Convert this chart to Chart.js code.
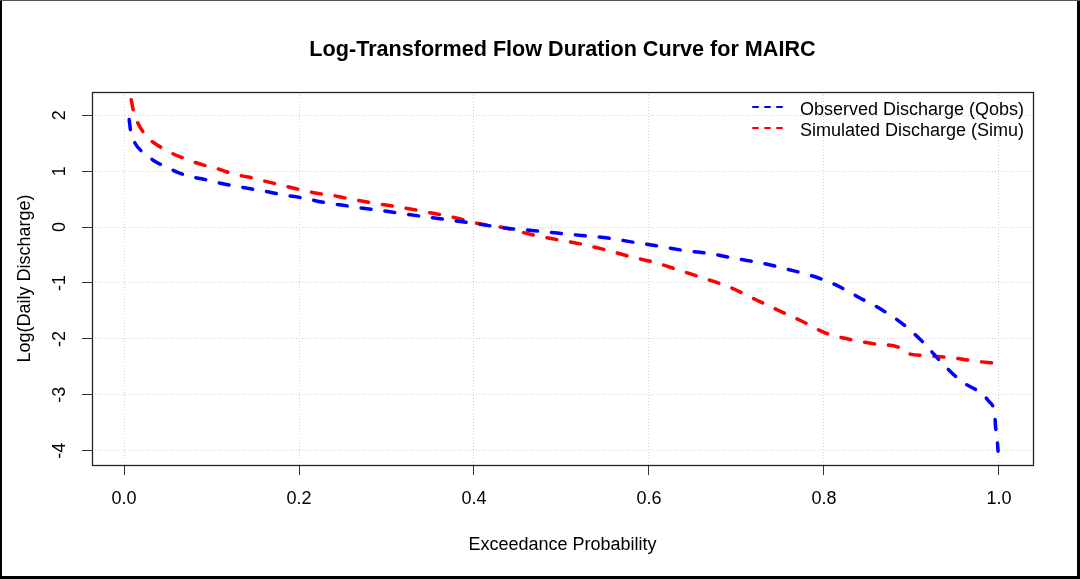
<!DOCTYPE html>
<html>
<head>
<meta charset="utf-8">
<script src="https://cdn.jsdelivr.net/npm/chart.js@4.4.1/dist/chart.umd.min.js"></script>
<style>
html,body{margin:0;padding:0;background:#fff;overflow:hidden}
#wrap{width:1080px;height:579px;position:relative;background:#fff}
canvas{display:block}
</style>
</head>
<body>
<div id="wrap"><canvas id="c" width="1080" height="579"></canvas></div>
<script>
// ---- data ----
const titleText = 'Log-Transformed Flow Duration Curve for MAIRC';
const xTitle = 'Exceedance Probability';
const yTitle = 'Log(Daily Discharge)';
const seriesNames = ['Observed Discharge (Qobs)', 'Simulated Discharge (Simu)'];
const seriesColors = ['#0000ff', '#ff0000'];

const xTicks = [0, 0.2, 0.4, 0.6, 0.8, 1.0];
const xTickLabels = ['0.0', '0.2', '0.4', '0.6', '0.8', '1.0'];
const yTicks = [-4, -3, -2, -1, 0, 1, 2];
const yTickLabels = ['-4', '-3', '-2', '-1', '0', '1', '2'];

const obsProb = [0.0032, 0.0057, 0.0076, 0.0126, 0.024, 0.035, 0.049, 0.062, 0.077, 0.091,
  0.106, 0.121, 0.136, 0.152, 0.167, 0.179, 0.195, 0.209, 0.224, 0.239,
  0.255, 0.27, 0.285, 0.30, 0.317, 0.346, 0.375, 0.405, 0.436, 0.466,
  0.495, 0.523, 0.553, 0.582, 0.613, 0.641, 0.672, 0.70, 0.729, 0.757,
  0.786, 0.813, 0.839, 0.866, 0.891, 0.912, 0.933, 0.957, 0.982, 0.988,
  0.993, 0.995, 0.996, 0.998, 0.999];
const obsLogQ = [2.17, 1.95, 1.71, 1.50, 1.31, 1.18, 1.07, 0.975, 0.90, 0.857,
  0.80, 0.75, 0.707, 0.666, 0.625, 0.585, 0.546, 0.51, 0.455, 0.416,
  0.38, 0.345, 0.315, 0.285, 0.245, 0.18, 0.12, 0.054, -0.018, -0.06,
  -0.107, -0.15, -0.196, -0.27, -0.346, -0.42, -0.48, -0.565, -0.643, -0.75,
  -0.87, -1.03, -1.25, -1.477, -1.745, -2.04, -2.40, -2.757, -3.0, -3.11,
  -3.2, -3.3, -3.55, -3.8, -4.009];

const simProb = [0.0032, 0.007, 0.011, 0.015, 0.026, 0.035, 0.05, 0.062, 0.077, 0.091,
  0.106, 0.117, 0.135, 0.148, 0.163, 0.179, 0.193, 0.207, 0.222, 0.235,
  0.25, 0.264, 0.281, 0.293, 0.315, 0.346, 0.375, 0.403, 0.433, 0.462,
  0.49, 0.521, 0.55, 0.578, 0.609, 0.635, 0.664, 0.693, 0.721, 0.748,
  0.775, 0.801, 0.83, 0.858, 0.887, 0.894, 0.917, 0.948, 0.974, 0.999];
const simLogQ = [2.7, 2.39, 2.06, 1.886, 1.62, 1.50, 1.36, 1.27, 1.18, 1.11,
  1.05, 0.99, 0.916, 0.875, 0.814, 0.755, 0.70, 0.648, 0.60, 0.577,
  0.53, 0.488, 0.44, 0.41, 0.357, 0.268, 0.18, 0.07, -0.007, -0.12,
  -0.21, -0.30, -0.405, -0.525, -0.643, -0.775, -0.92, -1.08, -1.29, -1.49,
  -1.685, -1.89, -2.01, -2.09, -2.16, -2.25, -2.30, -2.34, -2.40, -2.44];

// ---- chart ----
const FONT = '"Liberation Sans", Arial, sans-serif';
const toPoints = (xs, ys) => xs.map((x, i) => ({ x: x, y: ys[i] }));

const decorPlugin = {
  id: 'decor',
  afterDraw(chart) {
    const ctx = chart.ctx;
    const a = chart.chartArea;
    ctx.save();
    // plot box
    ctx.strokeStyle = '#222';
    ctx.lineWidth = 1.3;
    ctx.setLineDash([]);
    ctx.strokeRect(a.left + 0.5, a.top + 0.5, a.right - a.left, a.bottom - a.top);

    // title
    const cx = (a.left + a.right) / 2;
    ctx.fillStyle = '#000';
    ctx.textAlign = 'center';
    ctx.textBaseline = 'alphabetic';
    ctx.font = 'bold 21.6px ' + FONT;
    ctx.fillText(titleText, cx, 56);

    // axis titles
    ctx.font = '18px ' + FONT;
    ctx.fillText(xTitle, cx, 550);
    ctx.save();
    ctx.translate(29.5, (a.top + a.bottom) / 2);
    ctx.rotate(-Math.PI / 2);
    ctx.fillText(yTitle, 0, 0);
    ctx.restore();

    // legend
    const lx0 = 753, lx1 = 786, tx = 800;
    const ly = [107, 128];
    chart.data.datasets.forEach((ds, i) => {
      ctx.strokeStyle = ds.borderColor;
      ctx.lineWidth = 2;
      ctx.lineCap = 'round';
      ctx.setLineDash([5, 7]);
      ctx.beginPath();
      ctx.moveTo(lx0, ly[i]);
      ctx.lineTo(lx1, ly[i]);
      ctx.stroke();
      ctx.setLineDash([]);
      ctx.fillStyle = '#000';
      ctx.textAlign = 'left';
      ctx.textBaseline = 'alphabetic';
      ctx.font = '18px ' + FONT;
      ctx.fillText(ds.label, tx, ly[i] + 7.5);
    });

    // outer frame
    ctx.fillStyle = '#000';
    ctx.fillRect(0, 0, 2, chart.height);
    ctx.fillRect(chart.width - 3, 0, 3, chart.height);
    ctx.fillRect(0, chart.height - 3, chart.width, 3);
    ctx.fillStyle = '#555';
    ctx.fillRect(0, 0, chart.width, 1);
    ctx.restore();
  }
};

const commonDs = {
  borderWidth: 3.5,
  borderDash: [10, 14],
  borderCapStyle: 'round',
  borderJoinStyle: 'round',
  pointRadius: 0,
  pointHoverRadius: 0,
  fill: false,
  cubicInterpolationMode: 'monotone',
  clip: 0
};

new Chart(document.getElementById('c'), {
  type: 'line',
  data: {
    datasets: [
      Object.assign({ label: seriesNames[0], data: toPoints(obsProb, obsLogQ), borderColor: seriesColors[0] }, commonDs, { borderDashOffset: 10 }),
      Object.assign({ label: seriesNames[1], data: toPoints(simProb, simLogQ), borderColor: seriesColors[1] }, commonDs)
    ]
  },
  options: {
    responsive: false,
    animation: false,
    devicePixelRatio: 1,
    events: [],
    layout: { padding: { top: 92, right: 47, bottom: 0, left: 0 } },
    plugins: {
      legend: { display: false },
      title: { display: false },
      tooltip: { enabled: false }
    },
    scales: {
      x: {
        type: 'linear',
        min: -0.0366,
        max: 1.0389,
        afterBuildTicks: s => { s.ticks = xTicks.map(v => ({ value: v })); },
        afterFit: s => { s.height = 114; },
        ticks: {
          callback: (v, i) => xTickLabels[i],
          font: { family: FONT, size: 18 },
          color: '#000',
          padding: 13,
          maxRotation: 0,
          minRotation: 0,
          autoSkip: false
        },
        grid: { color: '#d3d3d3', lineWidth: 1, drawTicks: true, tickLength: 10, tickColor: '#333', tickWidth: 1 },
        border: { display: false, dash: [1, 2] }
      },
      y: {
        type: 'linear',
        min: -4.256,
        max: 2.417,
        afterBuildTicks: s => { s.ticks = yTicks.map(v => ({ value: v })); },
        afterFit: s => { s.width = 92; },
        ticks: {
          callback: (v, i) => yTickLabels[i],
          font: { family: FONT, size: 18 },
          color: '#000',
          padding: 14,
          minRotation: 90,
          maxRotation: 90,
          crossAlign: 'center',
          autoSkip: false
        },
        grid: { color: '#d3d3d3', lineWidth: 1, drawTicks: true, tickLength: 10, tickColor: '#333', tickWidth: 1 },
        border: { display: false, dash: [1, 2] }
      }
    }
  },
  plugins: [decorPlugin]
});
</script>
</body>
</html>
